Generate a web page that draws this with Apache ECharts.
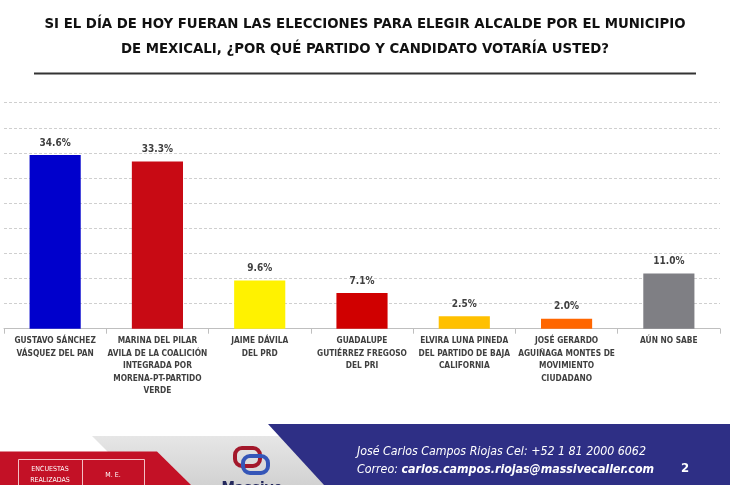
<!DOCTYPE html>
<html><head><meta charset="utf-8">
<script src="https://cdn.jsdelivr.net/npm/echarts@6/dist/echarts.min.js"></script>
<style>html,body{margin:0;padding:0;background:#fff}#c{width:730px;height:485px}</style>
</head><body><div id="c"></div>
<script>
const titleLines = ["SI EL DÍA DE HOY FUERAN LAS ELECCIONES PARA ELEGIR ALCALDE POR EL MUNICIPIO", "DE MEXICALI, ¿POR QUÉ PARTIDO Y CANDIDATO VOTARÍA USTED?"];
const categories = [
  "GUSTAVO SÁNCHEZ\nVÁSQUEZ DEL PAN",
  "MARINA DEL PILAR\nAVILA DE LA COALICIÓN\nINTEGRADA POR\nMORENA-PT-PARTIDO\nVERDE",
  "JAIME DÁVILA\nDEL PRD",
  "GUADALUPE\nGUTIÉRREZ FREGOSO\nDEL PRI",
  "ELVIRA LUNA PINEDA\nDEL PARTIDO DE BAJA\nCALIFORNIA",
  "JOSÉ GERARDO\nAGUIÑAGA MONTES DE\nMOVIMIENTO\nCIUDADANO",
  "AÚN NO SABE"
];
const values = [34.6, 33.3, 9.6, 7.1, 2.5, 2.0, 11.0];
const barColors = ["#0000CC", "#C80A14", "#FFF200", "#D00000", "#FFC000", "#FF6600", "#7F7F84"];
const footerLine1 = "José Carlos Campos Riojas Cel: +52 1 81 2000 6062";
const footerLabel = "Correo: ";
const footerEmail = "carlos.campos.riojas@massivecaller.com";
const pageNumber = "2";
const boxLeft = ["ENCUESTAS", "REALIZADAS"];
const boxRight = "M. E.";
const logoText = "Massive";

const NARROW = '"DejaVu Sans Condensed", "Liberation Sans", sans-serif';
const chart = echarts.init(document.getElementById('c'), null, {renderer: 'canvas'});
chart.setOption({
  backgroundColor: '#ffffff',
  animation: false,
  title: {
    text: titleLines.join('\n'),
    left: 'center', top: 7,
    textStyle: {fontFamily: NARROW, fontWeight: 'bold', fontSize: 14.8, lineHeight: 25, color: '#111111'}
  },
  grid: {left: 4, right: 10, top: 102.7, bottom: 156.3},
  xAxis: {
    type: 'category', data: categories,
    axisLine: {lineStyle: {color: '#bfbfbf', width: 1}},
    axisTick: {show: true, length: 5, lineStyle: {color: '#bfbfbf'}},
    axisLabel: {interval: 0, margin: 6, fontFamily: NARROW, fontWeight: 'bold', fontSize: 8.3, lineHeight: 12.5, color: '#404040', verticalAlign: 'top'}
  },
  yAxis: {
    type: 'value', min: 0, max: 45, interval: 5,
    axisLabel: {show: false}, axisLine: {show: false}, axisTick: {show: false},
    splitLine: {lineStyle: {color: '#cfcfcf', type: [3, 2], width: 1}}
  },
  series: [{
    type: 'bar', barWidth: '50%',
    data: values.map((v, i) => ({value: v, itemStyle: {color: barColors[i]}})),
    label: {show: true, position: 'top', distance: 7, fontFamily: NARROW, fontWeight: 'bold', fontSize: 10, color: '#404040',
      formatter: p => p.value.toFixed(1) + '%'}
  }],
  graphic: [
    {type: 'line', shape: {x1: 34, y1: 73.5, x2: 696, y2: 73.5}, style: {stroke: '#333333', lineWidth: 2}},
    {type: 'polygon', shape: {points: [[92,436],[340,436],[340,485],[141,485]]},
      style: {fill: new echarts.graphic.LinearGradient(0,0,0,1,[{offset:0,color:'#e6e6e6'},{offset:1,color:'#d2d2d2'}])}},
    {type: 'polygon', shape: {points: [[0,451.5],[157,451.5],[191,485],[0,485]]}, style: {fill: '#C31126'}},
    {type: 'rect', shape: {x: 18.5, y: 459.5, width: 126, height: 40}, style: {fill: 'none', stroke: '#f3c0c5', lineWidth: 1}},
    {type: 'line', shape: {x1: 82.5, y1: 459.5, x2: 82.5, y2: 485}, style: {stroke: '#f3c0c5', lineWidth: 1}},
    {type: 'text', x: 50, y: 469, style: {text: boxLeft[0], fill: '#ffffff', font: '7px ' + NARROW, align: 'center', verticalAlign: 'middle'}},
    {type: 'text', x: 50, y: 480, style: {text: boxLeft[1], fill: '#ffffff', font: '7px ' + NARROW, align: 'center', verticalAlign: 'middle'}},
    {type: 'text', x: 113, y: 475, style: {text: boxRight, fill: '#ffffff', font: '7px ' + NARROW, align: 'center', verticalAlign: 'middle'}},
    {type: 'polygon', shape: {points: [[268,424],[730,424],[730,485],[324,485]]}, style: {fill: '#2E2F85'}},
    {type: 'rect', shape: {x: 235, y: 448, width: 25, height: 18, r: 7}, style: {fill: 'none', stroke: '#A3182B', lineWidth: 4}},
    {type: 'rect', shape: {x: 243, y: 456, width: 25, height: 17, r: 7}, style: {fill: 'none', stroke: '#3556B8', lineWidth: 4}},
    {type: 'text', x: 252, y: 482, style: {text: logoText, fill: '#24285c', font: 'bold 15px ' + NARROW, align: 'center', verticalAlign: 'top'}},
    {type: 'text', x: 357, y: 452, style: {text: footerLine1, fill: '#ffffff', font: 'italic 12.3px ' + NARROW, verticalAlign: 'middle'}},
    {type: 'text', x: 357, y: 470, style: {
      text: '{a|' + footerLabel + '}{b|' + footerEmail + '}',
      rich: {a: {fill: '#ffffff', font: 'italic 12.3px ' + NARROW}, b: {fill: '#ffffff', font: 'italic bold 12.3px ' + NARROW}},
      verticalAlign: 'middle'}},
    {type: 'text', x: 681, y: 469, style: {text: pageNumber, fill: '#ffffff', font: 'bold 13px ' + NARROW, verticalAlign: 'middle'}}
  ]
});
</script></body></html>
